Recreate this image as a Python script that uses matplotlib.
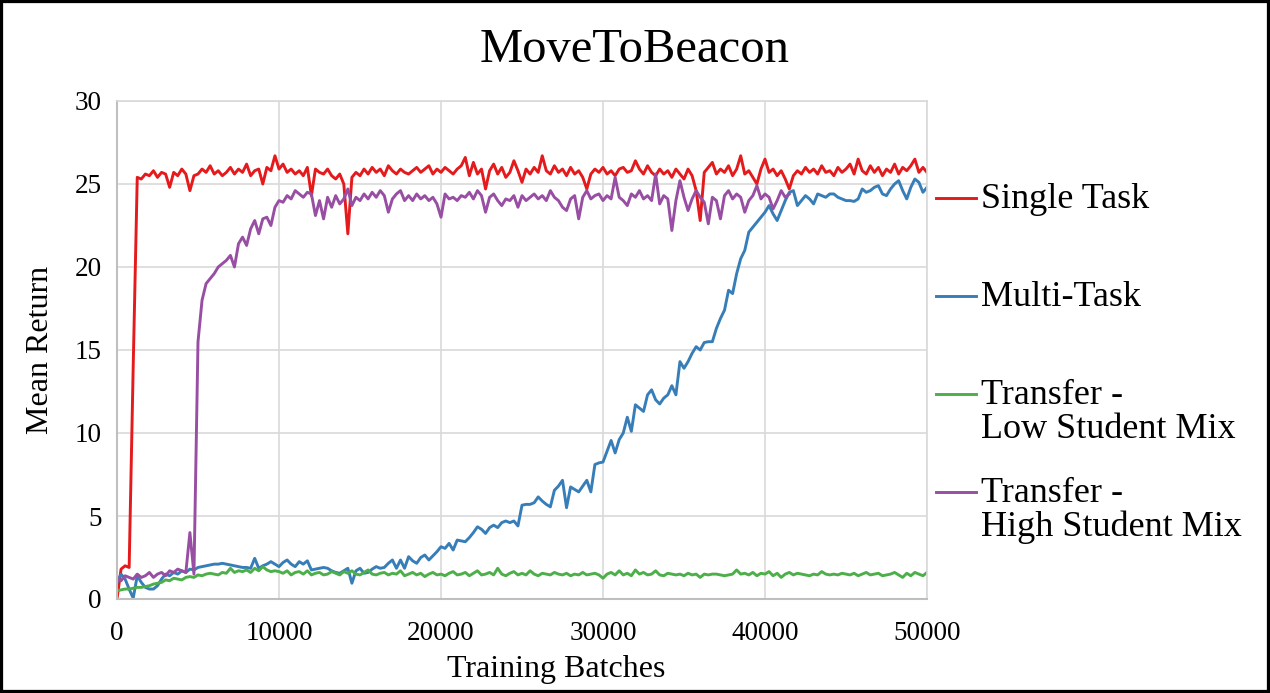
import numpy as np
import matplotlib
matplotlib.use("Agg")
import matplotlib.pyplot as plt
from matplotlib.lines import Line2D
from matplotlib.patches import Rectangle

plt.rcParams['font.family'] = ['Liberation Serif', 'DejaVu Serif']

# training batches, one record every 250 batches
batches = np.arange(0, 50001, 250)

single_task = [
    0.0, 1.8, 2.0, 1.9, 14.0, 25.4, 25.3, 25.6, 25.5, 25.8, 25.4, 25.7, 25.6, 24.8, 25.7, 25.5, 25.9, 25.6, 24.6, 25.5,
    25.6, 25.9, 25.7, 26.1, 25.6, 25.8, 25.5, 25.7, 26.0, 25.6, 25.9, 25.7, 26.2, 25.5, 25.8, 25.9, 25.0, 26.0, 25.8, 26.7,
    25.9, 26.2, 25.7, 25.9, 25.6, 25.8, 25.5, 26.0, 24.3, 25.9, 25.7, 25.6, 25.9, 25.5, 25.3, 25.6, 25.0, 22.0, 25.4, 25.7,
    25.5, 25.9, 25.6, 26.0, 25.7, 25.9, 25.5, 26.1, 25.8, 25.6, 25.9, 25.7, 25.6, 25.8, 26.0, 25.7, 25.9, 26.1, 25.6, 25.9,
    25.7, 26.0, 25.8, 25.6, 25.9, 26.1, 26.6, 25.5, 26.3, 25.6, 25.9, 24.7, 25.8, 26.2, 25.6, 26.0, 25.4, 25.7, 26.4, 25.8,
    25.1, 25.9, 25.6, 26.0, 25.7, 26.7, 25.8, 25.6, 26.1, 25.7, 25.9, 25.5, 26.0, 25.6, 25.8, 25.4, 24.7, 25.6, 25.9, 25.7,
    26.0, 25.6, 25.8, 25.5, 25.9, 26.0, 25.7, 25.8, 26.4, 25.9, 25.6, 26.1, 25.7, 25.5, 25.9, 25.6, 25.8, 25.4, 25.9, 25.6,
    25.3, 25.9, 25.5, 24.6, 22.8, 25.7, 26.0, 26.3, 25.6, 25.9, 25.7, 26.1, 25.5, 25.9, 26.7, 25.6, 25.8, 25.4, 25.0, 25.9,
    26.5, 25.7, 25.9, 25.5, 25.8, 25.3, 24.7, 25.5, 25.8, 25.6, 26.0, 25.7, 25.9, 25.6, 26.1, 25.7, 25.8, 25.5, 26.0, 25.7,
    25.9, 26.2, 25.6, 26.5, 25.8, 25.6, 26.1, 25.7, 26.0, 25.5, 25.9, 25.7, 26.2, 25.6, 26.0, 25.8, 26.1, 26.5, 25.7, 26.0,
    25.7,
]

multi_task = [
    1.0, 1.5, 1.2, 0.6, 0.05, 1.4, 1.0, 0.7, 0.6, 0.6, 0.8, 1.2, 1.5, 1.4, 1.6, 1.5, 1.7, 1.6, 1.8, 1.75,
    1.9, 1.95, 2.0, 2.05, 2.1, 2.1, 2.15, 2.1, 2.05, 2.0, 1.95, 1.9, 1.9, 1.85, 2.45, 1.85, 2.0, 2.1, 2.25, 2.1,
    1.95, 2.2, 2.35, 2.1, 1.95, 2.25, 2.1, 2.3, 1.75, 1.8, 1.85, 1.9, 1.85, 1.7, 1.6, 1.55, 1.7, 1.85, 0.95, 1.7,
    1.85, 1.55, 1.6, 1.8, 1.95, 1.85, 1.9, 2.15, 2.35, 1.85, 2.35, 1.85, 2.55, 2.3, 2.15, 2.5, 2.65, 2.35, 2.6, 2.85,
    3.15, 3.05, 3.35, 2.95, 3.55, 3.5, 3.45, 3.7, 4.0, 4.35, 4.2, 3.95, 4.3, 4.45, 4.3, 4.6, 4.7, 4.6, 4.7, 4.4,
    5.65, 5.7, 5.7, 5.8, 6.15, 5.9, 5.7, 5.55, 6.55, 6.8, 7.15, 5.5, 6.75, 6.6, 6.45, 6.8, 7.15, 6.45, 8.1, 8.2,
    8.25, 8.9, 9.55, 8.8, 9.6, 10.0, 10.95, 10.1, 11.7, 11.5, 11.3, 12.3, 12.6, 12.0, 11.75, 12.1, 12.3, 12.85, 12.3, 14.3,
    13.9, 14.3, 14.8, 15.2, 15.0, 15.45, 15.5, 15.5, 16.3, 16.9, 17.4, 18.6, 18.4, 19.6, 20.5, 21.0, 22.1, 22.4, 22.7, 23.0,
    23.3, 23.7, 23.2, 22.8, 23.4, 24.0, 24.5, 24.6, 23.7, 24.0, 24.3, 24.1, 23.8, 24.4, 24.3, 24.2, 24.4, 24.4, 24.2, 24.1,
    24.0, 24.0, 23.95, 24.1, 24.7, 24.5, 24.6, 24.8, 24.9, 24.4, 24.3, 24.7, 25.0, 25.2, 24.6, 24.1, 24.8, 25.3, 25.1, 24.5,
    24.8,
]

transfer_low = [
    0.5, 0.55, 0.6, 0.6, 0.65, 0.7, 0.7, 0.75, 0.8, 0.9, 0.95, 1.0, 1.15, 1.1, 1.25, 1.2, 1.15, 1.3, 1.35, 1.3,
    1.45, 1.4, 1.5, 1.55, 1.5, 1.45, 1.6, 1.55, 1.85, 1.6, 1.7, 1.65, 1.75, 1.6, 1.85, 1.7, 1.95, 1.75, 1.65, 1.7,
    1.65, 1.55, 1.7, 1.45, 1.6, 1.65, 1.5, 1.7, 1.45, 1.55, 1.6, 1.45, 1.5, 1.65, 1.55, 1.45, 1.65, 1.55, 1.7, 1.5,
    1.45, 1.6, 1.75, 1.5, 1.45, 1.55, 1.6, 1.45, 1.55, 1.5, 1.7, 1.4, 1.5, 1.6, 1.45, 1.55, 1.35, 1.5, 1.6, 1.45,
    1.5, 1.4, 1.55, 1.65, 1.45, 1.5, 1.6, 1.4, 1.55, 1.7, 1.45, 1.5, 1.6, 1.45, 1.85, 1.5, 1.4, 1.55, 1.65, 1.45,
    1.55, 1.45, 1.7, 1.5, 1.4, 1.55, 1.5, 1.45, 1.6, 1.5, 1.45, 1.55, 1.4, 1.5, 1.45, 1.6, 1.45, 1.5, 1.55, 1.45,
    1.25, 1.5, 1.6, 1.45, 1.7, 1.45, 1.55, 1.4, 1.75, 1.5, 1.6, 1.45, 1.5, 1.7, 1.45, 1.4, 1.55, 1.5, 1.45, 1.5,
    1.4, 1.55, 1.45, 1.5, 1.3, 1.5, 1.45, 1.5, 1.5, 1.45, 1.4, 1.45, 1.5, 1.75, 1.5, 1.55, 1.45, 1.6, 1.4, 1.55,
    1.5, 1.65, 1.4, 1.55, 1.3, 1.5, 1.6, 1.45, 1.55, 1.5, 1.45, 1.4, 1.5, 1.45, 1.65, 1.5, 1.45, 1.5, 1.45, 1.55,
    1.5, 1.45, 1.55, 1.4, 1.5, 1.6, 1.45, 1.5, 1.55, 1.4, 1.45, 1.5, 1.6, 1.45, 1.3, 1.55, 1.4, 1.6, 1.5, 1.4,
    1.6,
]

# this run stops at 41500 batches
transfer_high = [
    1.2, 1.1, 1.4, 1.3, 1.2, 1.5, 1.3, 1.4, 1.6, 1.3, 1.5, 1.6, 1.4, 1.7, 1.6, 1.8, 1.7, 1.6, 4.0, 1.5,
    15.5, 18.0, 19.0, 19.3, 19.6, 20.0, 20.2, 20.4, 20.7, 20.0, 21.4, 21.8, 21.3, 22.3, 22.8, 22.0, 22.9, 23.0, 22.5, 23.6,
    24.0, 23.9, 24.3, 24.1, 24.6, 24.4, 24.2, 24.5, 24.4, 23.1, 24.0, 22.9, 24.2, 23.6, 24.3, 23.8, 24.1, 24.7, 23.7, 24.2,
    24.0, 24.4, 24.1, 24.5, 24.2, 24.6, 24.3, 23.3, 24.1, 24.4, 24.6, 24.0, 24.3, 24.0, 24.4, 24.1, 24.3, 24.0, 24.2, 23.8,
    23.0, 24.4, 24.1, 24.2, 24.0, 24.3, 24.2, 24.5, 24.1, 24.6, 24.3, 23.3, 24.2, 24.4, 24.0, 23.7, 24.1, 24.0, 24.3, 23.6,
    24.3, 24.0, 24.2, 24.4, 24.1, 24.3, 24.0, 24.6, 24.2, 24.0, 23.6, 23.4, 24.1, 24.3, 22.9, 24.2, 24.6, 24.1, 24.3, 24.4,
    24.0, 24.3, 24.1, 25.4, 24.2, 24.0, 23.7, 24.4, 24.2, 24.6, 24.1, 24.3, 24.0, 25.6, 23.8, 24.3, 24.1, 22.2, 24.0, 25.2,
    24.2, 23.4, 24.1, 24.6, 24.2, 23.9, 22.6, 24.2, 24.0, 22.9, 24.3, 24.6, 24.1, 24.4, 24.2, 23.3, 24.0, 24.3, 24.9, 24.1,
    24.4, 24.2, 23.5, 24.0, 24.6, 24.2, 24.4,
]

labels = ['Single Task', 'Multi-Task', 'Transfer -\nLow Student Mix', 'Transfer -\nHigh Student Mix']
colors = ['#e41a1c', '#377eb8', '#4daf4a', '#984ea3']
series = [single_task, multi_task, transfer_low, transfer_high]

fig = plt.figure(figsize=(12.7, 6.93), dpi=100)
ax = fig.add_axes([117 / 1270, 1 - 599 / 693, 810 / 1270, 498 / 693])

for ys, c in zip(series, colors):
    ax.plot(batches[:len(ys)], ys, color=c, linewidth=2.1)

ax.set_xlim(0, 50000)
ax.set_ylim(0, 30)
ax.set_xticks(range(0, 50001, 10000))
ax.set_yticks(range(0, 31, 5))
ax.grid(True, color='#d9d9d9', linewidth=1.2)
ax.set_axisbelow(True)
for side in ['top', 'right']:
    ax.spines[side].set_color('#d9d9d9')
    ax.spines[side].set_linewidth(1.2)
for side in ['left', 'bottom']:
    ax.spines[side].set_color('#bfbfbf')
    ax.spines[side].set_linewidth(1.5)
ax.tick_params(length=0, labelsize=19.5)
ax.tick_params(axis='y', pad=11)
ax.tick_params(axis='x', pad=16)

ax.set_xlabel('Training Batches', fontsize=23)
ax.xaxis.label.set_va('center')
ax.xaxis.set_label_coords((556 - 117) / 810, -(669 - 599) / 498)
ax.set_ylabel('Mean Return', fontsize=23)
ax.yaxis.label.set_va('center')
ax.yaxis.set_label_coords((40 - 117) / 810, 0.5)

fig.text(0.5, 1 - 50 / 693, 'MoveToBeacon', fontsize=35, ha='center', va='center')

# legend drawn by hand: handle sits level with the first text line
legend_y = [198, 296, 394, 492]
for lab, c, yp in zip(labels, colors, legend_y):
    yf = 1 - yp / 693
    fig.add_artist(Line2D([936 / 1270, 976 / 1270], [yf, yf], color=c, linewidth=2.1))
    fig.text(981 / 1270, yf + 15 / 693, lab, fontsize=26, ha='left', va='top',
             linespacing=1.02)

fig.add_artist(Rectangle((0, 0), 1, 1, transform=fig.transFigure, fill=False,
                         edgecolor='black', linewidth=4.5))

fig.savefig('out.png', dpi=100)
